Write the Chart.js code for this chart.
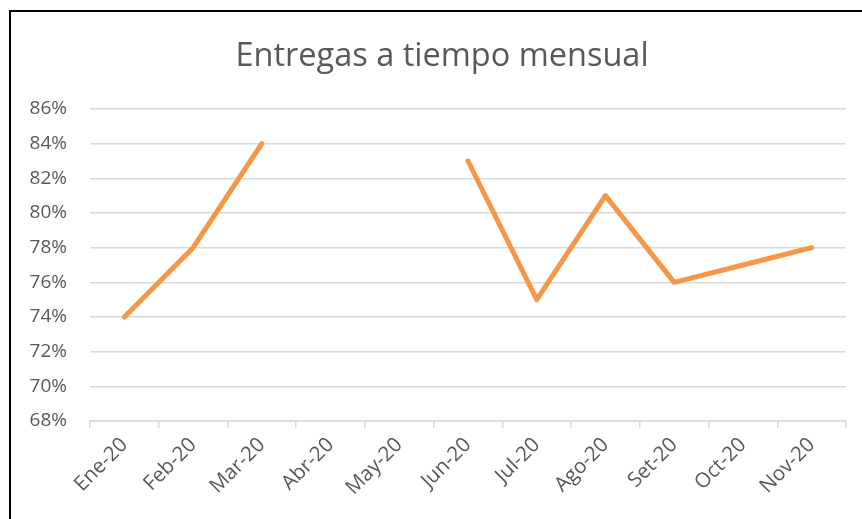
<!DOCTYPE html>
<html>
<head>
<meta charset="utf-8">
<script src="https://cdn.jsdelivr.net/npm/chart.js@4/dist/chart.umd.min.js"></script>
<style>
  html, body { margin: 0; padding: 0; background: #fff; overflow: hidden; }
  #wrap { position: relative; width: 862px; height: 519px; }
  #c { position: absolute; left: 0; top: 0; }
  #frame { position: absolute; left: 9px; top: 10px; width: 900px; height: 600px;
           border-left: 2px solid #000; border-top: 2px solid #000; pointer-events: none; }
</style>
</head>
<body>
<div id="wrap">
  <canvas id="c" width="862" height="519"></canvas>
  <div id="frame"></div>
</div>
<script>
const titleText = "Entregas a tiempo mensual";
const categories = ["Ene-20", "Feb-20", "Mar-20", "Abr-20", "May-20", "Jun-20", "Jul-20", "Ago-20", "Set-20", "Oct-20", "Nov-20"];
const onTimePct = [74, 78, 84, null, null, 83, 75, 81, 76, 77, 78];
const yMin = 68;
const yMax = 86;
const yStep = 2;

const txt = "#595959";
const grid = "#d9d9d9";
const fam = "'Open Sans', 'DejaVu Sans', sans-serif";
const titleSize = 32.5;

// Draws the title text centred on the (wider, off-page) chart box, in the space the title plugin reserves
const offsetTitle = {
  id: "offsetTitle",
  afterDraw(chart) {
    const t = chart.titleBlock;
    if (!t) return;
    const ctx = chart.ctx;
    ctx.save();
    ctx.fillStyle = txt;
    ctx.font = "normal " + titleSize + "px " + fam;
    ctx.textAlign = "center";
    ctx.textBaseline = "middle";
    ctx.fillText(titleText, 442, t.top + 37 + titleSize * 1.2 / 2);
    ctx.restore();
  }
};

new Chart(document.getElementById("c"), {
  type: "line",
  data: {
    labels: categories,
    datasets: [{
      label: "Entregas",
      data: onTimePct,
      borderColor: "#F79646",
      backgroundColor: "#F79646",
      borderWidth: 5,
      pointRadius: 0,
      pointHoverRadius: 0,
      tension: 0,
      spanGaps: false,
      borderCapStyle: "round",
      borderJoinStyle: "round"
    }]
  },
  plugins: [offsetTitle],
  options: {
    responsive: false,
    animation: false,
    devicePixelRatio: 1,
    layout: { padding: { left: 0, right: 16, top: 0, bottom: 0 } },
    plugins: {
      legend: { display: false },
      tooltip: { enabled: false },
      title: {
        display: true,
        text: titleText,
        color: "rgba(0,0,0,0)",
        font: { family: fam, size: titleSize, weight: "normal", lineHeight: 1.2 },
        padding: { top: 37, bottom: 33 }
      }
    },
    scales: {
      x: {
        type: "category",
        offset: true,
        grid: {
          display: true,
          offset: true,
          drawOnChartArea: false,
          drawTicks: true,
          tickLength: 7,
          color: grid,
          lineWidth: 1.5
        },
        border: { display: true, color: grid, width: 1.5 },
        ticks: {
          color: txt,
          font: { family: fam, size: 20.5 },
          minRotation: 45,
          maxRotation: 45,
          autoSkip: false,
          padding: 5
        },
        afterFit: (s) => { s.height = 98; }
      },
      y: {
        min: yMin,
        max: yMax,
        grid: { color: grid, lineWidth: 1.5, drawTicks: false },
        border: { display: false },
        ticks: {
          stepSize: yStep,
          color: txt,
          font: { family: fam, size: 19 },
          padding: 23,
          callback: (v) => v + "%"
        },
        afterFit: (s) => { s.width = 90; }
      }
    }
  }
});
</script>
</body>
</html>
